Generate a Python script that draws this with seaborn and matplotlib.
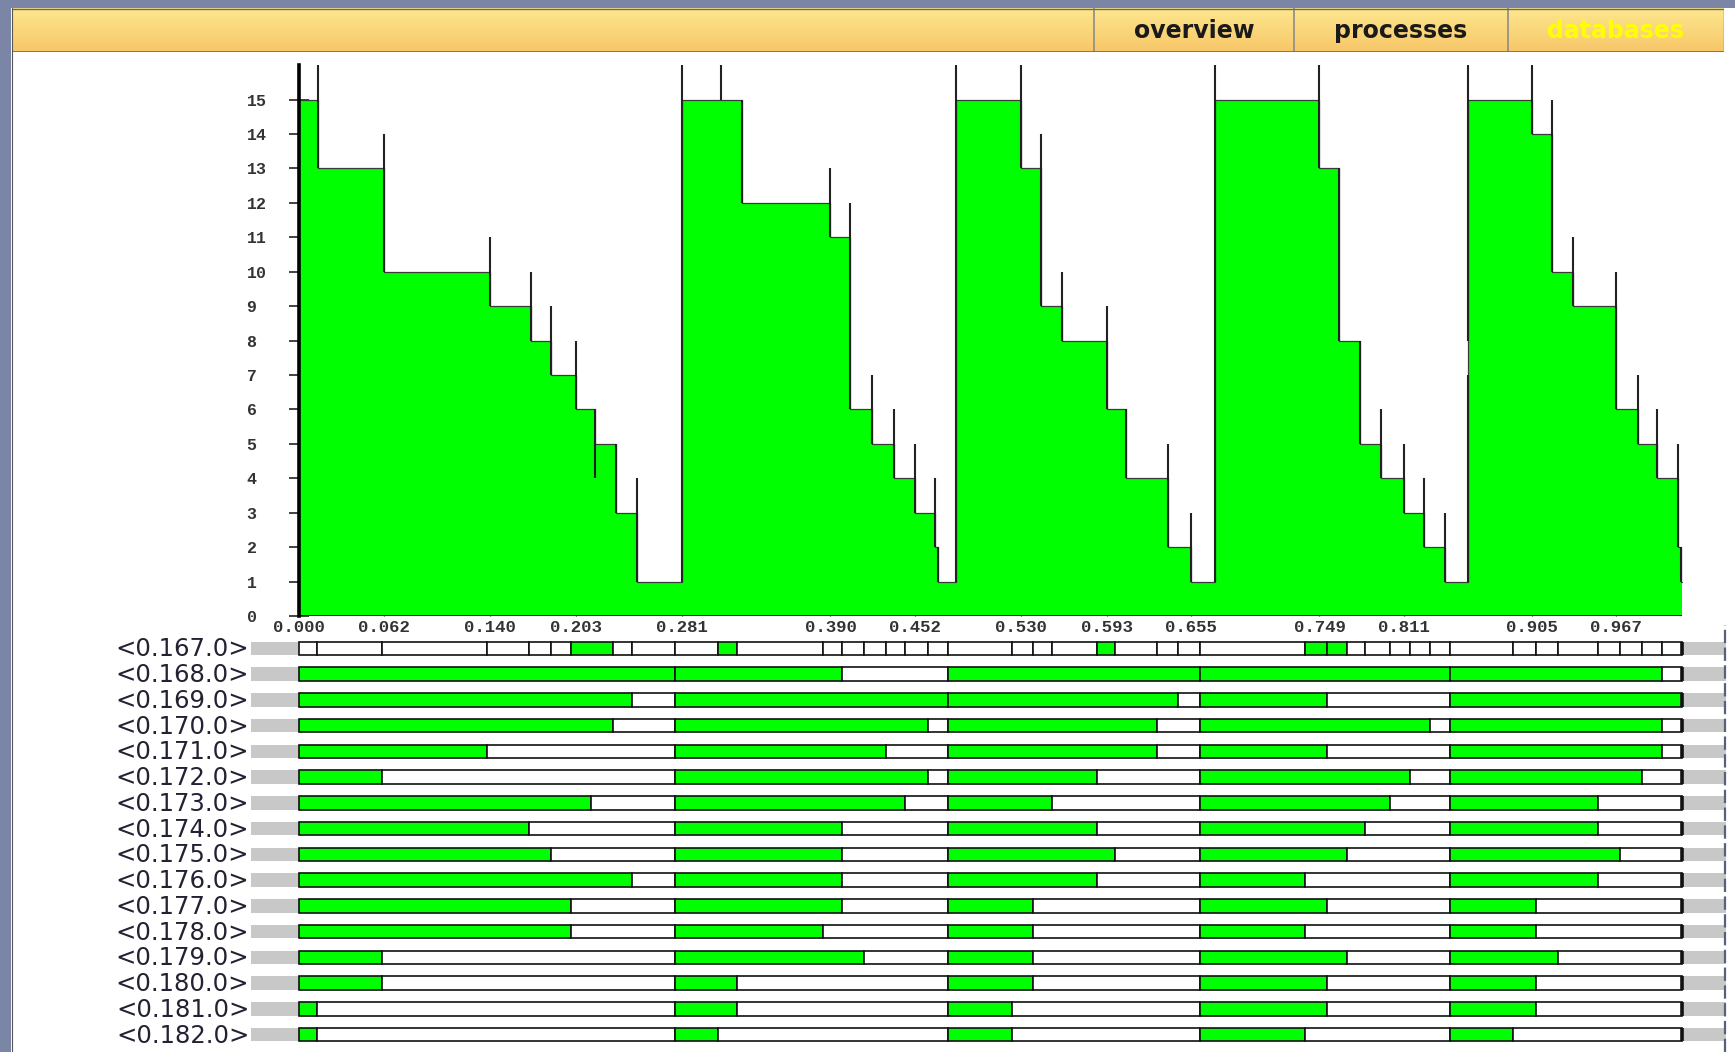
import numpy as np
import pandas as pd
import matplotlib
matplotlib.use("Agg")
import matplotlib.pyplot as plt
import seaborn as sns
from matplotlib.patches import Rectangle
from matplotlib.lines import Line2D

# ---------------- data ----------------
step_times = [0.000, 0.0134, 0.062, 0.140, 0.1702, 0.1848, 0.203, 0.2173, 0.2327, 0.2481,
              0.281, 0.3253, 0.390, 0.4041, 0.4204, 0.4366, 0.452, 0.4667, 0.4691,
              0.4821, 0.530, 0.5447, 0.5601, 0.593, 0.6072, 0.6381, 0.655,
              0.6723, 0.749, 0.7631, 0.7786, 0.7940, 0.811, 0.8257, 0.8412,
              0.8582, 0.905, 0.9199, 0.9354, 0.967, 0.9826, 0.9972, 1.0126, 1.0142]
step_values = [15, 13, 10, 9, 8, 7, 6, 5, 3, 1,
               15, 12, 11, 6, 5, 4, 3, 2, 1,
               15, 13, 9, 8, 6, 4, 2, 1,
               15, 13, 8, 5, 4, 3, 2, 1,
               15, 14, 10, 9, 6, 5, 4, 2, 1]
end_time = 1.015

mark_times = [0.0134, 0.062, 0.140, 0.1702, 0.1848, 0.203, 0.2173, 0.2327, 0.2481,
              0.281, 0.3099, 0.3253, 0.390, 0.4041, 0.4204, 0.4366, 0.452, 0.4667, 0.4691,
              0.4821, 0.530, 0.5447, 0.5601, 0.593, 0.6072, 0.6381, 0.655,
              0.6723, 0.749, 0.7631, 0.7786, 0.7940, 0.811, 0.8257, 0.8412,
              0.8582, 0.8582, 0.905, 0.9199, 0.9354, 0.967, 0.9826, 0.9972, 1.0126, 1.0142]
mark_low = [13, 10, 9, 8, 7, 6, 4, 3, 1,
            1, 15, 12, 11, 6, 5, 4, 3, 2, 1,
            1, 13, 9, 8, 6, 4, 2, 1,
            1, 13, 8, 5, 4, 3, 2, 1,
            1, 8, 14, 10, 9, 6, 5, 4, 2, 1]
mark_high = [16, 14, 11, 10, 9, 8, 6, 5, 4,
             16, 16, 15, 13, 12, 7, 6, 5, 4, 2,
             16, 16, 14, 10, 9, 6, 5, 3,
             16, 16, 13, 8, 6, 5, 4, 3,
             7, 16, 16, 15, 11, 10, 7, 6, 5, 2]

x_tick_values = [0.000, 0.062, 0.140, 0.203, 0.281, 0.390, 0.452, 0.530,
                 0.593, 0.655, 0.749, 0.811, 0.905, 0.967]
x_tick_labels = ["0.000", "0.062", "0.140", "0.203", "0.281", "0.390", "0.452", "0.530",
                 "0.593", "0.655", "0.749", "0.811", "0.905", "0.967"]
y_tick_values = list(range(0, 16))

process_names = ["<0.167.0>", "<0.168.0>", "<0.169.0>", "<0.170.0>", "<0.171.0>",
                 "<0.172.0>", "<0.173.0>", "<0.174.0>", "<0.175.0>", "<0.176.0>",
                 "<0.177.0>", "<0.178.0>", "<0.179.0>", "<0.180.0>", "<0.181.0>",
                 "<0.182.0>"]

row167_edges = [0.0, 0.0128, 0.0605, 0.1376, 0.1689, 0.1846, 0.1995, 0.2301, 0.2441,
                0.2758, 0.3076, 0.3211, 0.3842, 0.3987, 0.4149, 0.4306, 0.4447, 0.4618,
                0.4765, 0.5231, 0.5385, 0.5529, 0.5855, 0.5990, 0.6296, 0.6454, 0.6614,
                0.7384, 0.7544, 0.7690, 0.7825, 0.8008, 0.8155, 0.8302, 0.8449, 0.8913,
                0.9080, 0.9244, 0.9538, 0.9696, 0.9856, 1.0003, 1.015]
row167_green_cells = [6, 10, 22, 27, 28]

cycle_starts = [0.0, 0.2758, 0.4765, 0.6614, 0.8449]
busy_until = {
    "<0.168.0>": [0.2758, 0.3987, 0.6614, 0.8449, 1.0003],
    "<0.169.0>": [0.2441, 0.4765, 0.6454, 0.7544, 1.0150],
    "<0.170.0>": [0.2301, 0.4618, 0.6296, 0.8302, 1.0003],
    "<0.171.0>": [0.1376, 0.4306, 0.6296, 0.7544, 1.0003],
    "<0.172.0>": [0.0605, 0.4618, 0.5855, 0.8155, 0.9856],
    "<0.173.0>": [0.2140, 0.4447, 0.5529, 0.8008, 0.9538],
    "<0.174.0>": [0.1689, 0.3987, 0.5855, 0.7825, 0.9538],
    "<0.175.0>": [0.1846, 0.3987, 0.5990, 0.7690, 0.9696],
    "<0.176.0>": [0.2441, 0.3987, 0.5855, 0.7384, 0.9538],
    "<0.177.0>": [0.1995, 0.3987, 0.5385, 0.7544, 0.9080],
    "<0.178.0>": [0.1995, 0.3842, 0.5385, 0.7384, 0.9080],
    "<0.179.0>": [0.0605, 0.4149, 0.5385, 0.7690, 0.9244],
    "<0.180.0>": [0.0605, 0.3211, 0.5385, 0.7544, 0.9080],
    "<0.181.0>": [0.0128, 0.3211, 0.5231, 0.7544, 0.9080],
    "<0.182.0>": [0.0128, 0.3076, 0.5231, 0.7384, 0.8913],
}
tab_labels = ["overview", "processes", "databases"]

# ---------------- style ----------------
sns.set_theme(style="white")
plt.rcParams["font.family"] = ["DejaVu Sans"]

GREEN = "#00ff00"
W, H = 1735, 1052
fig = plt.figure(figsize=(W / 100, H / 100), dpi=100)
fig.patch.set_facecolor("white")

def fx(x):
    return x / W

def fy(y):
    return 1 - y / H

# window frame
fig.patches.append(Rectangle((0, 0), fx(11), 1, transform=fig.transFigure,
                             facecolor="#7b86a6", edgecolor="none", zorder=0))
fig.patches.append(Rectangle((0, fy(8)), 1, 8 / H, transform=fig.transFigure,
                             facecolor="#7b86a6", edgecolor="none", zorder=0))
fig.lines.append(Line2D([fx(11.5), fx(11.5)], [0, fy(8)], transform=fig.transFigure,
                        color="#555555", lw=0.8))

# header gradient
hax = fig.add_axes([fx(12), fy(52), fx(1724) - fx(12), (52 - 8) / H])
grad = np.linspace(0, 1, 64).reshape(-1, 1)
top = np.array([253, 231, 142]) / 255
bot = np.array([248, 198, 104]) / 255
img = top[None, None, :] * (1 - grad[..., None]) + bot[None, None, :] * grad[..., None]
img = np.repeat(img, 2, axis=1)
hax.imshow(img, aspect="auto", extent=[12, 1724, 52, 8])
hax.set_xlim(12, 1724)
hax.set_ylim(52, 8)
hax.axis("off")
for sx in [1094, 1294, 1508]:
    hax.plot([sx, sx], [8, 52], color="#8c8c8c", lw=1.2)
hax.plot([12, 1724], [51.5, 51.5], color="#6a6a6a", lw=1.2)
hax.plot([12, 1724], [8.5, 8.5], color="#6a6a6a", lw=1.0)
hax.plot([1723.5, 1723.5], [8, 52], color="#6a6a6a", lw=1.0)
tab_centers = [1194, 1401, 1616]
tab_colors = ["#1a1a1a", "#1a1a1a", "#ffff00"]
for lab, cx, col in zip(tab_labels, tab_centers, tab_colors):
    hax.text(cx, 31, lab, ha="center", va="center", fontsize=17,
             fontweight="bold", color=col)

# ---------------- step chart ----------------
x0_px, px_per_unit = 299.3, 1362.0
xlim = (-0.05, 1.05)
ax_left = x0_px + xlim[0] * px_per_unit
ax_w = (xlim[1] - xlim[0]) * px_per_unit
y0_px, px_per_val = 616.0, 34.43
ytop = 16.2
ax = fig.add_axes([fx(ax_left), fy(y0_px), ax_w / W, ytop * px_per_val / H])
ax.set_facecolor("none")
ax.set_xlim(*xlim)
ax.set_ylim(0, ytop)

xs = step_times + [end_time]
ys = step_values + [step_values[-1]]
ax.fill_between(xs, ys, step="post", color=GREEN, lw=0, zorder=1)
sns.lineplot(x=xs, y=ys, drawstyle="steps-post", estimator=None, sort=False,
             color="#3a3a3a", lw=0.9, ax=ax, zorder=2)
ax.vlines(mark_times, mark_low, mark_high, colors="#222222", lw=1.5, zorder=3)
ax.hlines(0, 0, end_time, colors="#111111", lw=1.3, zorder=3)

for s in ["top", "right", "bottom"]:
    ax.spines[s].set_visible(False)
ax.spines["left"].set_position(("data", 0))
ax.spines["left"].set_bounds(0, 16)
ax.spines["left"].set_linewidth(2.6)
ax.spines["left"].set_color("black")
ax.spines["left"].set_zorder(4)

ax.set_yticks(y_tick_values)
ax.set_yticklabels([str(v) for v in y_tick_values])
# labels left-aligned at ~x=249px (50px left of the axis line)
ax.tick_params(axis="y", direction="inout", length=14, width=1.2, color="#222222",
               pad=31, labelsize=12, labelcolor="#333333", left=True)
ax.set_xticks(x_tick_values)
ax.set_xticklabels(x_tick_labels)
ax.tick_params(axis="x", direction="in", length=5, width=1.0, color="#222222",
               pad=3, labelsize=12.5, labelcolor="#333333", bottom=True)
for lab in ax.get_yticklabels():
    lab.set_horizontalalignment("left")
for lab in ax.get_xticklabels() + ax.get_yticklabels():
    lab.set_fontfamily(["Liberation Mono", "DejaVu Sans Mono"])
    lab.set_fontweight("bold")
ax.grid(False)

# ---------------- process rows ----------------
row_top_px = 635.5
row_pitch = 25.75
n = len(process_names)
rax = fig.add_axes([fx(ax_left), fy(row_top_px + n * row_pitch), ax_w / W, n * row_pitch / H])
rax.set_facecolor("none")
rax.set_xlim(*xlim)
rax.set_ylim(n - 0.5, -0.5)
rax.axis("off")

bar_h = 0.52
gray_left = -0.0357
gray_right = 1.0475
EDGE = dict(edgecolor="#111111", linewidth=1.2)

for i, name in enumerate(process_names):
    rax.barh(i, 0 - gray_left, left=gray_left, height=bar_h, color="#c8c8c8", lw=0)
    rax.barh(i, gray_right - end_time, left=end_time, height=bar_h, color="#c8c8c8", lw=0)
    if i == 0:
        for k in range(len(row167_edges) - 1):
            a, b = row167_edges[k], row167_edges[k + 1]
            col = GREEN if k in row167_green_cells else "white"
            rax.barh(i, b - a, left=a, height=bar_h, color=col, **EDGE)
    else:
        ends = cycle_starts[1:] + [end_time]
        for c, st in enumerate(cycle_starts):
            bu = busy_until[name][c]
            en = ends[c]
            if bu > st:
                rax.barh(i, bu - st, left=st, height=bar_h, color=GREEN, **EDGE)
            if en - bu > 1e-6:
                rax.barh(i, en - bu, left=bu, height=bar_h, color="white", **EDGE)
    rax.vlines(end_time, i - bar_h / 2, i + bar_h / 2, colors="#111111", lw=2.6)
    rax.text(gray_left - 0.001, i + 0.04, name, ha="right", va="center",
             fontsize=17.5, color="#222233")

# right dashed border
fig.lines.append(Line2D([fx(1725), fx(1725)], [0, fy(625)], transform=fig.transFigure,
                        color="#5a6078", lw=1.6, linestyle=(0, (6, 2))))

fig.savefig("out.png", dpi=100)
